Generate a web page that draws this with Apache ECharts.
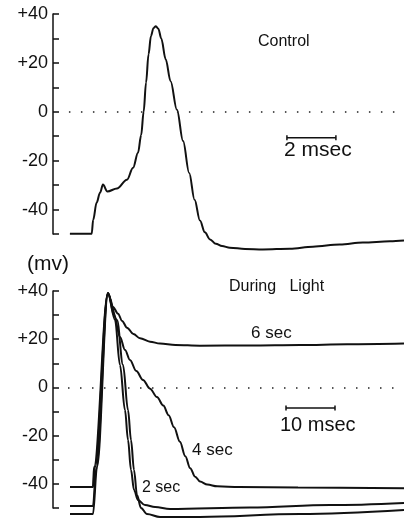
<!DOCTYPE html>
<html>
<head>
<meta charset="utf-8">
<script src="https://cdn.jsdelivr.net/npm/echarts@6/dist/echarts.min.js"></script>
<style>
  html, body { margin: 0; padding: 0; background: #fff; }
  #chart { width: 404px; height: 519px; }
</style>
</head>
<body>
<div id="chart"></div>
<script>
// membrane potential (mV) vs time (ms)
const mvTicks = [40, 20, 0, -20, -40];

// control action potential, 2 msec scale
const controlTrace = [
  [0.69, -49.9], [1.58, -49.9], [1.64, -44.2], [1.78, -37.2], [1.92, -33.1], [2.04, -29.8],
  [2.22, -32.6], [2.61, -31.4], [3.02, -27.8], [3.27, -22.9], [3.47, -16.8], [3.60, -9.5],
  [3.70, 0], [3.80, 12], [3.90, 23.5], [4.00, 31], [4.10, 34.2], [4.20, 35], [4.30, 34],
  [4.42, 30], [4.60, 21.5], [4.80, 12.5], [5.06, 0.8], [5.31, -12], [5.56, -25], [5.78, -36],
  [6.00, -44.5], [6.20, -49.3], [6.41, -52.2], [6.65, -54], [6.90, -54.9], [7.22, -55.6],
  [7.84, -56.1], [8.57, -56.3], [9.67, -56], [10.61, -55.2], [11.71, -54.3], [12.65, -53.5],
  [13.76, -53], [14.33, -52.7]
];

// during light, 10 msec scale
const light6s = [
  [3.47, -41.3], [8.16, -41.3], [8.37, -33], [11.22, 39.2], [12.24, 33.4], [13.27, 30.6],
  [14.1, 27.6], [15.10, 24.8], [16.4, 22.2], [17.76, 20.4], [19.8, 19], [21.84, 18.2],
  [25.0, 17.6], [30.0, 17.3], [40.2, 17.4], [50.4, 17.6], [60.0, 17.9], [71.63, 18.2]
];
const light4s = [
  [3.47, -41.3], [8.16, -41.3], [8.57, -33], [11.22, 39.2], [12.45, 30], [13.67, 20.9],
  [14.7, 15.5], [15.71, 11.4], [17.0, 6.8], [18.37, 3.1], [19.8, -0.5], [21.22, -4],
  [22.5, -7.5], [23.6, -11.5], [24.7, -16.5], [25.9, -22.5], [27.0, -28.5], [28.0, -33.5],
  [29.0, -37], [30.0, -39], [31.5, -40.3], [33.5, -41], [38.0, -41.3], [50.0, -41.5],
  [71.63, -41.8]
];
const light2s = [
  [3.47, -49.2], [8.16, -49.2], [8.78, -34], [11.22, 39.2], [12.65, 28], [13.67, 9.3],
  [14.69, -9.4], [15.31, -21.8], [15.92, -34.2], [16.53, -42.5], [17.35, -46.7],
  [18.78, -48.8], [20.82, -49.6], [23.88, -50.4], [40.2, -49.8], [56.53, -48.8], [71.63, -47.9]
];
const lightEarly = [
  [3.47, -52.5], [8.16, -52.5], [8.98, -33], [11.22, 38.8], [13.06, 28], [14.29, 9.3],
  [15.31, -9.4], [15.92, -21.8], [16.53, -34.2], [17.14, -44.6], [17.96, -50], [19.18, -52.5],
  [21.84, -53.7], [30.0, -53.7], [50.4, -52.5], [71.63, -50.8]
];

// scale bars: [start ms, length ms, level mV]
const barTop = [9.55, 2, -10.6];
const barBottom = [47.55, 10, -8.5];

const ink = '#111';
const font = '"Liberation Sans", Arial, sans-serif';

function yAxisFor(gridIndex) {
  return {
    gridIndex, type: 'value', min: -50, max: 40, interval: 10,
    axisLine: { show: true, lineStyle: { color: ink, width: 1.5 } },
    axisTick: { show: true, inside: true, length: 6, lineStyle: { color: ink, width: 1.5 } },
    axisLabel: {
      margin: 5, color: ink, fontSize: 18, fontFamily: font,
      formatter: v => mvTicks.includes(v) ? (v > 0 ? '+' + v : String(v)) : ''
    },
    splitLine: { show: false }
  };
}

function trace(data, idx) {
  return {
    type: 'line', xAxisIndex: idx, yAxisIndex: idx, data,
    showSymbol: false, clip: false, smooth: 0.35, smoothMonotone: 'x',
    lineStyle: { color: ink, width: 2 }, silent: true
  };
}

function zeroLine(idx, startMs, endMs) {
  return {
    type: 'line', xAxisIndex: idx, yAxisIndex: idx, data: [],
    markLine: {
      silent: true, symbol: 'none', label: { show: false },
      lineStyle: { color: '#222', width: 1.5, type: [1.5, 10.5] },
      data: [[{ coord: [startMs, 0] }, { coord: [endMs, 0] }]]
    }
  };
}

function scaleBar(idx, bar) {
  return {
    type: 'line', xAxisIndex: idx, yAxisIndex: idx, clip: false,
    data: [[bar[0], bar[2]], [bar[0] + bar[1], bar[2]]],
    symbol: 'rect', symbolSize: [1.5, 5], showSymbol: true,
    itemStyle: { color: ink }, lineStyle: { color: ink, width: 1.5 }, silent: true
  };
}

const chart = echarts.init(document.getElementById('chart'));
chart.setOption({
  animation: false,
  backgroundColor: '#fff',
  grid: [
    { left: 53, top: 14, width: 351, height: 220 },
    { left: 53, top: 291, width: 351, height: 217 }
  ],
  xAxis: [
    { gridIndex: 0, type: 'value', min: 0, max: 14.33, show: false },
    { gridIndex: 1, type: 'value', min: 0, max: 71.63, show: false }
  ],
  yAxis: [yAxisFor(0), yAxisFor(1)],
  series: [
    zeroLine(0, 0.65, 14.33),
    zeroLine(1, 3.06, 71.63),
    trace(controlTrace, 0),
    trace(light6s, 1),
    trace(light4s, 1),
    trace(light2s, 1),
    trace(lightEarly, 1),
    scaleBar(0, barTop),
    scaleBar(1, barBottom)
  ],
  graphic: [
    { type: 'text', left: 27, top: 254, style: { text: '(mv)', font: '21px ' + font, fill: ink } },
    { type: 'text', left: 258, top: 34, style: { text: 'Control', font: '16px ' + font, fill: ink } },
    { type: 'text', left: 284, top: 140, style: { text: '2 msec', font: '21px ' + font, fill: ink } },
    { type: 'text', left: 229, top: 279, style: { text: 'During   Light', font: '16px ' + font, fill: ink } },
    { type: 'text', left: 251, top: 325, style: { text: '6 sec', font: '17px ' + font, fill: ink } },
    { type: 'text', left: 280, top: 415, style: { text: '10 msec', font: '20px ' + font, fill: ink } },
    { type: 'text', left: 192, top: 442, style: { text: '4 sec', font: '17px ' + font, fill: ink } },
    { type: 'text', left: 142, top: 480, style: { text: '2 sec', font: '16px ' + font, fill: ink } }
  ]
});
</script>
</body>
</html>
